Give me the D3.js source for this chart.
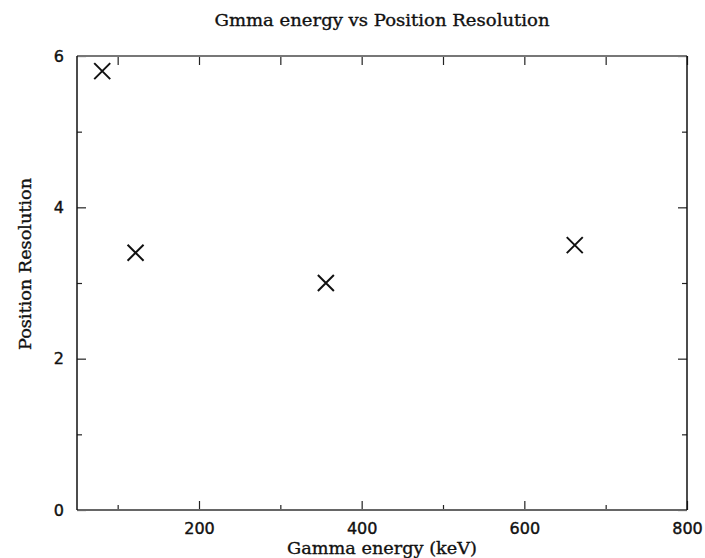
<!DOCTYPE html>
<html>
<head>
<meta charset="utf-8">
<script src="https://cdn.jsdelivr.net/npm/d3@7"></script>
<style>
  body { margin: 0; background: #fff; }
  svg { display: block; }
</style>
</head>
<body>
<div id="chart"></div>
<script>
// energies (keV) and measured position resolution
var energies = [81, 122, 356, 662];
var resolutions = [5.8, 3.4, 3.0, 3.5];

var xMajor = [200, 400, 600, 800];
var xMinor = [100, 300, 500, 700];
var yMajor = [0, 2, 4, 6];
var yMinor = [1, 3, 5];

var titleText = "Gmma energy vs Position Resolution";
var xLabel = "Gamma energy (keV)";
var yLabel = "Position Resolution";

(function () {
    var width = 705, height = 558;
    var margin = {top: 56, right: 18, bottom: 48, left: 77};
    var w = width - margin.left - margin.right,
        h = height - margin.top - margin.bottom;

    var svg = d3.select("#chart").append("svg")
        .attr("width", width)
        .attr("height", height);

    var x = d3.scaleLinear().domain([50, 800]).range([0, w]);
    var y = d3.scaleLinear().domain([0, 6]).range([h, 0]);

    var g = svg.append("g")
        .attr("transform", "translate(" + margin.left + "," + margin.top + ")");

    var numFont = "'DejaVu Sans', sans-serif";
    var textFont = "'DejaVu Serif', serif";

    // inward ticks on all four sides
    function ticks(axis, vals, size, tr, labels) {
        var a = g.append("g")
            .attr("transform", tr)
            .call(axis.tickValues(vals).tickSize(-size).tickPadding(labels ? 13 : 0)
                .tickFormat(labels ? d3.format("d") : ""));
        a.select(".domain").remove();
        a.selectAll("line").attr("stroke", "#222").attr("stroke-width", 1.2);
        a.selectAll("text")
            .style("font-family", numFont)
            .style("font-size", "16px")
            .attr("fill", "#111")
            .attr("stroke", "#111")
            .attr("stroke-width", 0.4);
        return a;
    }

    ticks(d3.axisBottom(x), xMajor, 9, "translate(0," + h + ")", true);
    ticks(d3.axisBottom(x), xMinor, 5, "translate(0," + h + ")", false);
    ticks(d3.axisTop(x), xMajor, -9, "translate(0,0)", false);
    ticks(d3.axisTop(x), xMinor, -5, "translate(0,0)", false);
    // flip top ticks to point inward
    g.selectAll("g").filter(function () {
        return d3.select(this).attr("transform") === "translate(0,0)";
    }).selectAll("line").attr("y2", 9);

    ticks(d3.axisLeft(y), yMajor, 9, "translate(0,0)", true)
        .selectAll("text").attr("x", -13);
    ticks(d3.axisLeft(y), yMinor, 5, "translate(0,0)", false);
    ticks(d3.axisRight(y), yMajor, 9, "translate(" + w + ",0)", false);
    ticks(d3.axisRight(y), yMinor, 5, "translate(" + w + ",0)", false);

    // frame
    g.append("line").attr("x1", 0).attr("x2", w).attr("y1", 0).attr("y2", 0)
        .attr("stroke", "#777").attr("stroke-width", 2);
    g.append("line").attr("x1", 0).attr("x2", w).attr("y1", h).attr("y2", h)
        .attr("stroke", "#666").attr("stroke-width", 2);
    g.append("line").attr("x1", 0).attr("x2", 0).attr("y1", 0).attr("y2", h)
        .attr("stroke", "#111").attr("stroke-width", 1.5);
    g.append("line").attr("x1", w).attr("x2", w).attr("y1", 0).attr("y2", h)
        .attr("stroke", "#111").attr("stroke-width", 1.5);

    // cross markers
    var pts = energies.map(function (e, i) { return {e: e, r: resolutions[i]}; });
    var s = 8;
    g.selectAll(".pt").data(pts).enter().append("path")
        .attr("class", "pt")
        .attr("d", function (d) {
            var cx = x(d.e), cy = y(d.r);
            return "M" + (cx - s) + "," + (cy - s) + "L" + (cx + s) + "," + (cy + s) +
                "M" + (cx - s) + "," + (cy + s) + "L" + (cx + s) + "," + (cy - s);
        })
        .attr("stroke", "#111")
        .attr("stroke-width", 2)
        .attr("fill", "none");

    // title and axis labels
    function label(sel, len) {
        return sel.attr("text-anchor", "middle")
            .attr("textLength", len)
            .attr("lengthAdjust", "spacingAndGlyphs")
            .style("font-family", textFont)
            .style("font-size", "17px")
            .attr("fill", "#111")
            .attr("stroke", "#111")
            .attr("stroke-width", 0.35);
    }

    label(svg.append("text").attr("x", 382).attr("y", 26), 335).text(titleText);
    label(svg.append("text").attr("x", 382).attr("y", 554), 190).text(xLabel);
    label(svg.append("text").attr("transform", "translate(31,264) rotate(-90)"), 172).text(yLabel);
}());
</script>
</body>
</html>
